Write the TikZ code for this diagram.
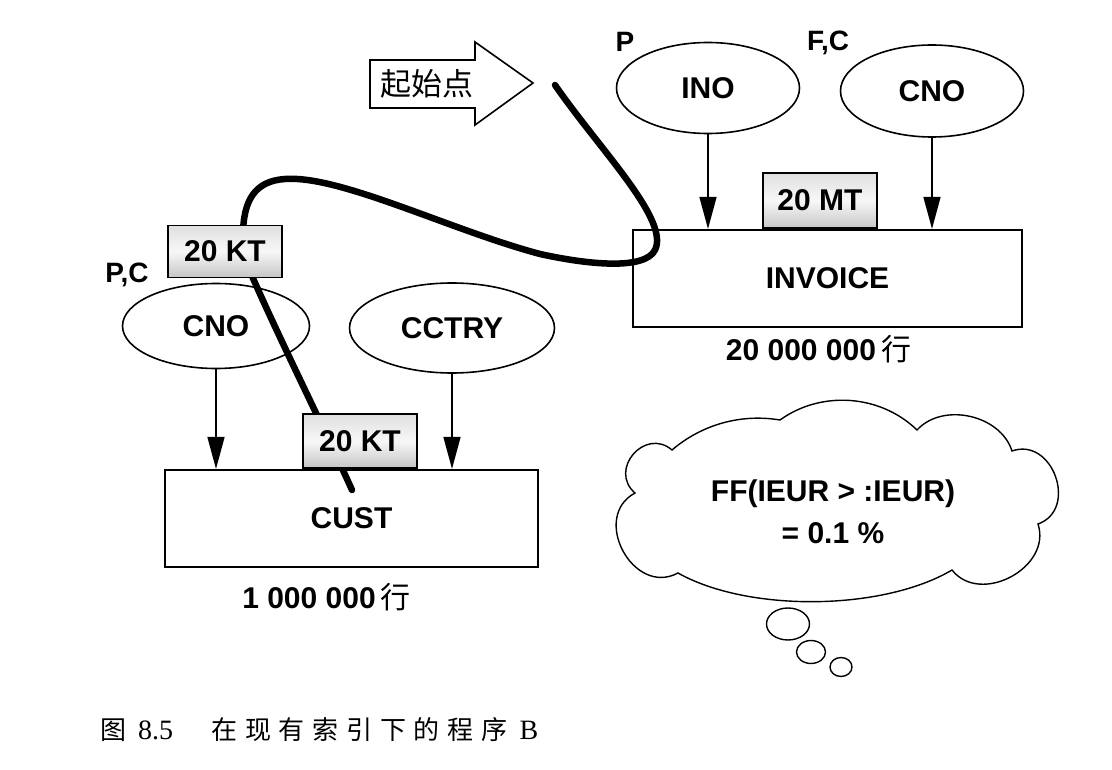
\documentclass[tikz,border=0pt]{standalone}
\usepackage{fontspec}
\setmainfont{Liberation Sans}
\newfontfamily\cjk{Noto Sans CJK SC}
\newfontfamily\serifcap{Liberation Serif}
\usetikzlibrary{positioning, shapes, arrows.meta, calc}

\begin{document}
\begin{tikzpicture}[
   x=1pt, y=-1pt,
   every node/.style  = {font=\fontsize{30}{34}\selectfont\bfseries, inner sep=0pt},
   node distance      = 4pt and 4pt,
       tableNode/.style = {rectangle, draw, line width=2.2pt},
       indexNode/.style = {ellipse, draw, line width=1.6pt},
       keyNode/.style   = {rectangle, draw, line width=1.6pt, minimum width=114pt,
                           top color=gray!25, bottom color=gray!45, middle color=gray!6},
       labelNode/.style = {font=\fontsize{28}{30}\selectfont\bfseries},
       rowNode/.style   = {font=\fontsize{30}{32}\selectfont\bfseries},
       pathLine/.style  = {line width=6.5pt, line cap=round},
       cloudLine/.style = {line width=1.4pt},
       myarrow/.style   = {-{Triangle[length=32pt, width=17pt]}, line width=1.6pt}
]
\useasboundingbox (0,0) rectangle (1112,770);

% tables
\node[tableNode, minimum width=389pt, minimum height=97pt] (invoice) at (827.5,278.5) {INVOICE};
\node[rowNode, below=7pt of invoice, xshift=-9pt] (invoiceRows) {20 000 000\,{\cjk\mdseries 行}};
\node[tableNode, minimum width=373pt, minimum height=97pt] (cust) at (351.5,518.5) {CUST};
\node[rowNode, below=15pt of cust, xshift=-25pt] (custRows) {1 000 000\,{\cjk\mdseries 行}};

% indexes
\node[indexNode, minimum width=183pt, minimum height=91pt] (ino) at (708,88) {INO};
\node[indexNode, minimum width=183pt, minimum height=92pt] (invCno) at (932,91) {CNO};
\node[indexNode, minimum width=187pt, minimum height=85pt] (custCno) at (216,326) {CNO};
\node[indexNode, minimum width=205pt, minimum height=90pt] (cctry) at (452,328) {CCTRY};

\node[labelNode] (inoFlag) at (625,42) {P};
\node[labelNode] (invCnoFlag) at (828,43) {F,C};
\node[labelNode] (custCnoFlag) at (127,275) {P,C};

\draw[myarrow] (ino) -- (ino |- invoice.north);
\draw[myarrow] (invCno) -- (invCno |- invoice.north);
\draw[myarrow] (custCno) -- (custCno |- cust.north);
\draw[myarrow] (cctry) -- (cctry |- cust.north);

% start arrow
\draw[line width=1.6pt] (370,60) -- (475,60) -- (475,42) -- (533,83) -- (475,125) -- (475,108) -- (370,108) -- cycle;
\node[font=\cjk\fontsize{31}{31}\selectfont] (startText) at (427,84) {起始点};

% access path
\coordinate (start) at (555,85);
\coordinate (loopEnd) at (243,236);
\coordinate (dropTop) at (252,276);
\coordinate (dropEnd) at (352,490);
\draw[pathLine] (start) .. controls (600,150) and (670,220) .. (655,250)
   .. controls (645,270) and (590,265) .. (540,254)
   .. controls (450,230) and (340,175) .. (285,179)
   .. controls (255,181) and (243,200) .. (loopEnd);
\draw[pathLine] (dropTop) .. controls (280,340) and (325,430) .. (dropEnd);

\node[keyNode, minimum height=55pt, above=0pt of invoice, xshift=-7.5pt] (invKey) {20 MT};
\node[keyNode, minimum height=52pt, above=4.5pt of custCno, xshift=9pt] (custKeyA) {20 KT};
\node[keyNode, minimum height=54pt, above=0pt of cust, xshift=8.5pt] (custKeyB) {20 KT};

% cloud
\draw[cloudLine] (635,493) to[bend left=90, looseness=1.6] (672,450)
   to[bend left=25, looseness=0.9] (780,420)
   to[bend left=40, looseness=0.95] (917,430)
   to[bend left=60, looseness=1] (1012,451)
   to[bend left=90, looseness=1.43] (1038,524)
   to[bend left=80, looseness=1.2] (952,570)
   to[bend left=30, looseness=0.75] (678,573)
   to[bend left=90, looseness=1.43] (635,493) -- cycle;
\node[font=\fontsize{30}{42}\selectfont\bfseries, align=center] (cloudText) at (833,512) {FF(IEUR > :IEUR)\\= 0.1 \%};
\draw[cloudLine] (788,624) ellipse [x radius=21.5, y radius=16];
\draw[cloudLine] (811,652) ellipse [x radius=14.5, y radius=11.5];
\draw[cloudLine] (841,667) ellipse [x radius=11, y radius=9.5];

% caption
\node[anchor=west, font=\fontsize{26}{26}\selectfont\mdseries] (caption) at (100,730)
   {{\cjk 图}\hspace{12pt}{\serifcap\fontsize{28}{28}\selectfont 8.5}\hspace{38pt}{\cjk\addfontfeature{LetterSpace=30} 在现有索引下的程序}\hspace{12pt}{\serifcap\fontsize{28}{28}\selectfont B}};
\end{tikzpicture}
\end{document}
